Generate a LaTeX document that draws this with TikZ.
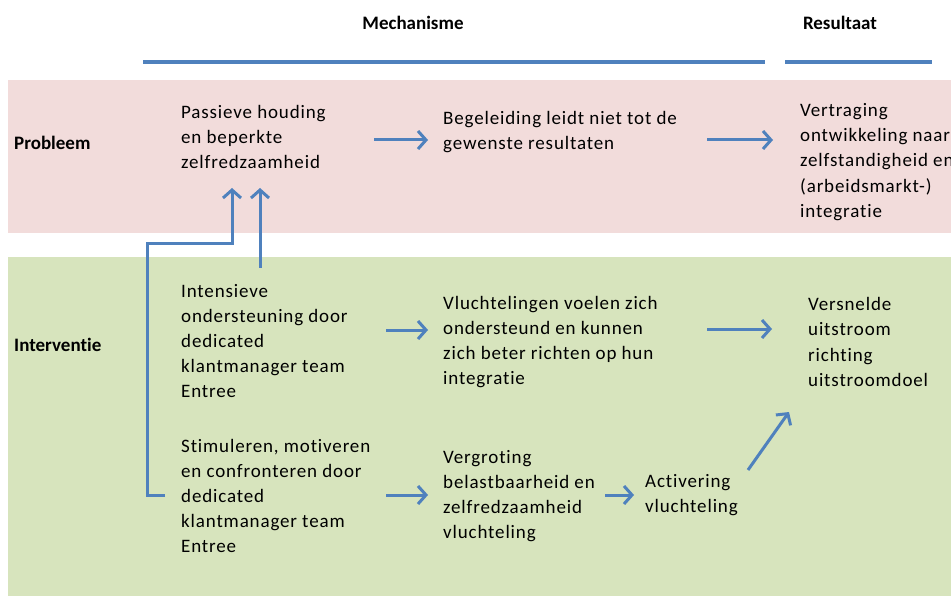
\documentclass[tikz,border=0pt]{standalone}
\usepackage{fontspec}
\setmainfont{Carlito}[Ligatures=NoCommon]
\newfontfamily\bodyfont{Carlito}[LetterSpace=4.5, Ligatures=NoCommon]
\usetikzlibrary{arrows.meta}
\definecolor{bandred}{HTML}{F2DCDB}
\definecolor{bandgreen}{HTML}{D7E4BD}
\definecolor{accent}{HTML}{4F81BD}
\tikzset{
  txt/.style={anchor=west, align=left, inner sep=0pt, font=\bodyfont\fontsize{19}{25.2}\selectfont},
  hdr/.style={inner sep=0pt, font=\bfseries\fontsize{19}{24}\selectfont},
  rowlabel/.style={anchor=west, inner sep=0pt, font=\bfseries\fontsize{19}{24}\selectfont},
  arr/.style={draw=accent, line width=3pt, -{Straight Barb[length=8pt,width=18pt]}},
  rule/.style={draw=accent, line width=3.5pt}
}
\begin{document}
\begin{tikzpicture}[x=1pt,y=-1pt]
\useasboundingbox (0,0) rectangle (951,596);
\clip (0,0) rectangle (951,596);
% background bands
\fill[bandred] (8,80) rectangle (951,233);
\fill[bandgreen] (8,257) rectangle (951,596);
% column headers
\node[hdr] (mech) at (413,23) {Mechanisme};
\node[hdr] (res) at (840,23) {Resultaat};
\draw[rule] (143,62) -- (765,62);
\draw[rule] (785,62) -- (932,62);
% row labels
\node[rowlabel] (prob) at (14,143) {Probleem};
\node[rowlabel] (interv) at (14,345) {Interventie};
% problem row
\node[txt] (pass) at (181,137) {Passieve houding\\en beperkte\\zelfredzaamheid};
\node[txt] (beg) at (443,132) {Begeleiding leidt niet tot de\\gewenste resultaten};
\node[txt] (vert) at (800,162) {Vertraging\\ontwikkeling naar\\zelfstandigheid en\\(arbeidsmarkt-)\\integratie};
% intervention row
\node[txt] (int) at (181,341) {Intensieve\\ondersteuning door\\dedicated\\klantmanager team\\Entree};
\node[txt] (vlu) at (443,342) {Vluchtelingen voelen zich\\ondersteund en kunnen\\zich beter richten op hun\\integratie};
\node[txt] (vers) at (808,342) {Versnelde\\uitstroom\\richting\\uitstroomdoel};
\node[txt] (stim) at (181,496) {Stimuleren, motiveren\\en confronteren door\\dedicated\\klantmanager team\\Entree};
\node[txt] (verg) at (443,496) {Vergroting\\belastbaarheid en\\zelfredzaamheid\\vluchteling};
\node[txt] (act) at (645,495) {Activering\\vluchteling};
% connector end points
\coordinate (p1a) at (374,140); \coordinate (p1b) at (428,140);
\coordinate (p2a) at (707,140); \coordinate (p2b) at (773,140);
\coordinate (p3a) at (386,330); \coordinate (p3b) at (428,330);
\coordinate (p4a) at (707,329); \coordinate (p4b) at (772,329);
\coordinate (p5a) at (386,495); \coordinate (p5b) at (428,495);
\coordinate (p6a) at (605,495); \coordinate (p6b) at (634,495);
\coordinate (p7a) at (748,470); \coordinate (p7b) at (789,412);
\coordinate (stimout) at (165,495);
\coordinate (elbow) at (147,244);
\coordinate (passinA) at (232,188);
\coordinate (intout) at (260,268);
\coordinate (passinB) at (260,188);
% connectors
\draw[arr] (p1a) -- (p1b);
\draw[arr] (p2a) -- (p2b);
\draw[arr] (p3a) -- (p3b);
\draw[arr] (p4a) -- (p4b);
\draw[arr] (p5a) -- (p5b);
\draw[arr] (p6a) -- (p6b);
\draw[arr] (p7a) -- (p7b);
\draw[arr] (stimout) -| (elbow) -| (passinA);
\draw[arr] (intout) -- (passinB);
\end{tikzpicture}
\end{document}
